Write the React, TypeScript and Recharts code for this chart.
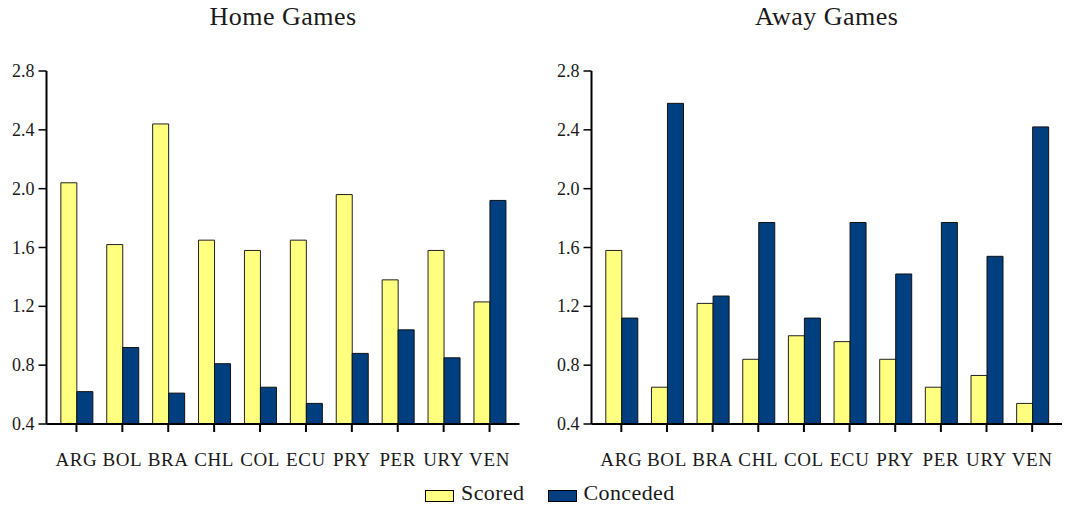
import React from "react";
import { BarChart, Bar, XAxis, YAxis } from "recharts";

const countries = ["ARG", "BOL", "BRA", "CHL", "COL", "ECU", "PRY", "PER", "URY", "VEN"];

// Average goals per match at home
const homeScored = [2.04, 1.62, 2.44, 1.65, 1.58, 1.65, 1.96, 1.38, 1.58, 1.23];
const homeConceded = [0.62, 0.92, 0.61, 0.81, 0.65, 0.54, 0.88, 1.04, 0.85, 1.92];

// Average goals per match away
const awayScored = [1.58, 0.65, 1.22, 0.84, 1.0, 0.96, 0.84, 0.65, 0.73, 0.54];
const awayConceded = [1.12, 2.58, 1.27, 1.77, 1.12, 1.77, 1.42, 1.77, 1.54, 2.42];

const yTicks = [0.4, 0.8, 1.2, 1.6, 2.0, 2.4, 2.8];

const SCORED_COLOR = "#ffff80";
const CONCEDED_COLOR = "#003f7f";
const FONT = "'Liberation Serif', 'Times New Roman', serif";
const INK = "#1a1a1a";

const homeData = countries.map((c, i) => ({ country: c, scored: homeScored[i], conceded: homeConceded[i] }));
const awayData = countries.map((c, i) => ({ country: c, scored: awayScored[i], conceded: awayConceded[i] }));

// Category labels under the x axis
function CountryTick(props: any) {
  const { x, y, payload } = props;
  return (
    <text
      x={x}
      y={y + 34}
      textAnchor="middle"
      fill={INK}
      style={{ fontFamily: FONT, fontSize: 19, letterSpacing: 0.6 }}
    >
      {payload.value}
    </text>
  );
}

// Value labels left of the y axis
function ValueTick(props: any) {
  const { x, y, payload } = props;
  return (
    <text
      x={x}
      y={y}
      dy={6}
      textAnchor="end"
      fill={INK}
      style={{ fontFamily: FONT, fontSize: 18 }}
    >
      {Number(payload.value).toFixed(1)}
    </text>
  );
}

type PanelProps = {
  title: string;
  data: { country: string; scored: number; conceded: number }[];
  left: number;
  width: number;
  yAxisWidth: number;
  marginRight: number;
  padding: number;
};

function Panel({ title, data, left, width, yAxisWidth, marginRight, padding }: PanelProps) {
  const plotLeft = yAxisWidth;
  const plotRight = width - marginRight;
  return (
    <div style={{ position: "absolute", left, top: 0, width, height: 506 }}>
      <div
        style={{
          position: "absolute",
          left: plotLeft,
          width: plotRight - plotLeft,
          top: 2,
          textAlign: "center",
          fontFamily: FONT,
          fontSize: 26,
          letterSpacing: 0.5,
          color: INK,
          whiteSpace: "nowrap",
        }}
      >
        {title}
      </div>
      <BarChart
        width={width}
        height={506}
        data={data}
        margin={{ top: 71, right: marginRight, bottom: 42, left: 0 }}
        barCategoryGap="16%"
        barGap={0}
      >
        <XAxis
          dataKey="country"
          xAxisId="bottom"
          height={40}
          padding={{ left: padding, right: padding }}
          axisLine={{ stroke: "#000", strokeWidth: 2 }}
          tickLine={{ stroke: "#000", strokeWidth: 2 }}
          tickSize={8}
          tickMargin={0}
          interval={0}
          tick={<CountryTick />}
        />
        <XAxis
          dataKey="country"
          xAxisId="top"
          orientation="top"
          height={0}
          tick={false}
          tickLine={false}
          axisLine={{ stroke: "#000", strokeWidth: 2 }}
        />
        <YAxis
          yAxisId="left"
          width={yAxisWidth}
          domain={[0.4, 2.8]}
          ticks={yTicks}
          allowDataOverflow
          axisLine={{ stroke: "#000", strokeWidth: 2 }}
          tickLine={{ stroke: "#000", strokeWidth: 1.5 }}
          tickSize={8}
          tickMargin={4}
          tick={<ValueTick />}
        />
        <YAxis
          yAxisId="right"
          orientation="right"
          width={0}
          domain={[0.4, 2.8]}
          tick={false}
          tickLine={false}
          axisLine={{ stroke: "#000", strokeWidth: 2 }}
        />
        <Bar
          dataKey="scored"
          name="Scored"
          xAxisId="bottom"
          yAxisId="left"
          fill={SCORED_COLOR}
          stroke="#222"
          strokeWidth={1}
          isAnimationActive={false}
        />
        <Bar
          dataKey="conceded"
          name="Conceded"
          xAxisId="bottom"
          yAxisId="left"
          fill={CONCEDED_COLOR}
          stroke="#111"
          strokeWidth={1}
          isAnimationActive={false}
        />
      </BarChart>
    </div>
  );
}

function LegendItem({ color, label }: { color: string; label: string }) {
  return (
    <div style={{ display: "flex", alignItems: "center", marginRight: 23 }}>
      <div
        style={{
          width: 27,
          height: 10,
          background: color,
          border: "1px solid #000",
          marginRight: 7,
          marginTop: 5,
        }}
      />
      <span style={{ fontFamily: FONT, fontSize: 22, letterSpacing: 0.4, color: INK }}>{label}</span>
    </div>
  );
}

export default function App() {
  return (
    <div
      style={{
        position: "absolute",
        left: 0,
        top: 0,
        width: 1071,
        height: 506,
        background: "#fff",
        overflow: "hidden",
      }}
    >
      <Panel title="Home Games" data={homeData} left={0} width={540} yAxisWidth={46.5} marginRight={20.5} padding={7} />
      <Panel title="Away Games" data={awayData} left={545} width={526} yAxisWidth={46.5} marginRight={9} padding={7} />
      <div
        style={{
          position: "absolute",
          left: 425,
          top: 480,
          display: "flex",
          alignItems: "center",
        }}
      >
        <LegendItem color={SCORED_COLOR} label="Scored" />
        <LegendItem color={CONCEDED_COLOR} label="Conceded" />
      </div>
    </div>
  );
}
